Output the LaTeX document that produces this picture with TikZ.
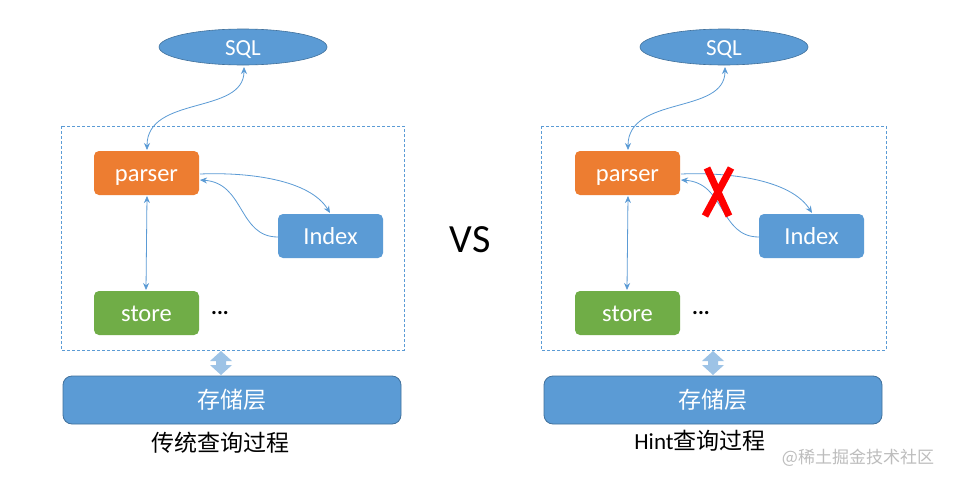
\documentclass[tikz,border=0pt]{standalone}
\usepackage{fontspec}
\setmainfont{Carlito}
\newfontfamily\cjk{Noto Sans CJK SC}
\usetikzlibrary{arrows.meta,shapes.geometric}
\definecolor{cblue}{HTML}{5B9BD5}
\definecolor{cblued}{HTML}{41719C}
\definecolor{corange}{HTML}{ED7D31}
\definecolor{cgreen}{HTML}{70AD47}
\definecolor{clight}{HTML}{9DC3E6}
\definecolor{cgray}{HTML}{BDBDBD}
\tikzset{
  box/.style={rounded corners=5pt, minimum width=105pt, minimum height=44pt, text=white, font=\fontsize{24.5}{27}\selectfont, inner sep=0pt, text height=20pt, text depth=3.5pt},
  sqlnode/.style={ellipse, fill=cblue, draw=cblued, line width=0.6pt, minimum width=168pt, minimum height=36pt, text=white, font=\fontsize{23}{26}\selectfont, inner sep=0pt, text height=17pt, text depth=1pt},
  frame/.style={draw=cblue, dashed, dash pattern=on 3pt off 2pt, line width=0.7pt},
  layer/.style={rounded corners=9pt, fill=cblue, draw=cblued, line width=0.8pt, minimum height=48pt, text=white, font=\cjk\fontsize{23}{26}\selectfont, inner sep=0pt},
  conn/.style={draw=cblue, line width=0.8pt, {Stealth[length=7pt,width=6pt]}-{Stealth[length=7pt,width=6pt]}},
  conn1/.style={draw=cblue, line width=0.8pt, -{Stealth[length=7pt,width=6pt]}},
  caption/.style={font=\cjk\fontsize{23}{26}\selectfont, text=black},
  dots/.style={font=\fontsize{22}{24}\selectfont\bfseries, text=black},
  blockarrow/.style={fill=clight, draw=none},
  xmark/.style={draw=red, line width=7pt},
}
\begin{document}
\begin{tikzpicture}[x=1pt,y=-1pt]
\useasboundingbox (0,0) rectangle (954,485);
\fill[white] (0,0) rectangle (954,485);

% ---------- left ----------
\draw[frame] (61,126) rectangle (404,350);
\node[sqlnode] (sqlL) at (243,47) {SQL};
\node[box, fill=corange] (parL) at (146.5,173) {parser};
\node[box, fill=cblue] (idxL) at (330.5,236) {Index};
\node[box, fill=cgreen] (stoL) at (146.5,313) {store};
\node[dots] (dotL) at (220,313) {...};
\node[layer, minimum width=338pt] (layL) at (232,400) {存储层};
\node[caption] (capL) at (220,443) {传统查询过程};
\coordinate (sL1) at (244,67);
\coordinate (pL1) at (147,150);
\draw[conn] (sL1) .. controls (244,115) and (147,95) .. (pL1);
\coordinate (pL2) at (200,174);
\coordinate (iL2) at (330,213);
\draw[conn1] (pL2) .. controls (250,172) and (310,180) .. (iL2);
\coordinate (iL3) at (278,237);
\coordinate (pL3) at (200,180);
\draw[conn1] (iL3) .. controls (238,237) and (245,183) .. (pL3);
\coordinate (pL4) at (147,196);
\coordinate (sL4) at (146,290);
\draw[conn] (pL4) -- (sL4);
\fill[blockarrow] (221,351) -- (232,361) -- (226,361) -- (226,365) -- (232,365) -- (221,375) -- (210,365) -- (216,365) -- (216,361) -- (210,361) -- cycle;

% ---------- VS ----------
\node[font=\fontsize{40}{44}\selectfont, text=black] (vs) at (470,240) {VS};

% ---------- right ----------
\draw[frame] (541,126) rectangle (886,350);
\node[sqlnode] (sqlR) at (724,47) {SQL};
\node[box, fill=corange] (parR) at (627.5,173) {parser};
\node[box, fill=cblue] (idxR) at (811.5,236) {Index};
\node[box, fill=cgreen] (stoR) at (627.5,313) {store};
\node[dots] (dotR) at (701,313) {...};
\node[layer, minimum width=338pt] (layR) at (713,400) {存储层};
\node[caption] (capR) at (700,441) {{\fontspec{Carlito}Hint}查询过程};
\coordinate (sR1) at (725,67);
\coordinate (pR1) at (628,150);
\draw[conn] (sR1) .. controls (725,115) and (628,95) .. (pR1);
\coordinate (pR2) at (681,174);
\coordinate (iR2) at (812,213);
\draw[conn1] (pR2) .. controls (731,172) and (791,180) .. (iR2);
\coordinate (iR3) at (759,237);
\coordinate (pR3) at (681,180);
\draw[conn1] (iR3) .. controls (719,237) and (726,183) .. (pR3);
\coordinate (pR4) at (628,196);
\coordinate (sR4) at (627,290);
\draw[conn] (pR4) -- (sR4);
\fill[blockarrow] (713,351) -- (724,361) -- (718,361) -- (718,365) -- (724,365) -- (713,375) -- (702,365) -- (708,365) -- (708,361) -- (702,361) -- cycle;
\coordinate (x1a) at (707,168);
\coordinate (x1b) at (729,216);
\coordinate (x2a) at (731,168);
\coordinate (x2b) at (705,216);
\draw[xmark] (x1a) -- (x1b);
\draw[xmark] (x2a) -- (x2b);

% watermark
\node[font=\cjk\fontsize{17}{20}\selectfont, text=cgray] (wm) at (858,458) {@稀土掘金技术社区};
\end{tikzpicture}
\end{document}
